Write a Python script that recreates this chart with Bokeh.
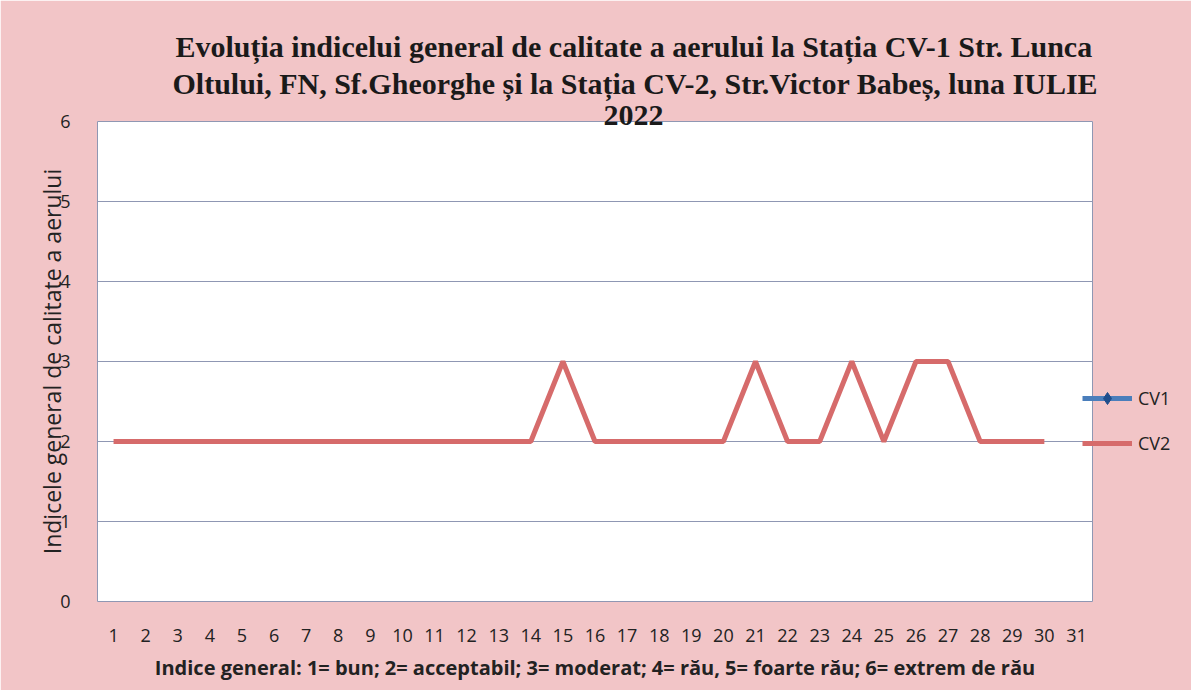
from bokeh.plotting import figure
from bokeh.models import Title, Legend, LegendItem, FixedTicker, Range1d, ColumnDataSource
from bokeh.embed import file_html
from bokeh.resources import INLINE

NaN = float("nan")

# ---- data ----
days = [1, 2, 3, 4, 5, 6, 7, 8, 9, 10, 11, 12, 13, 14, 15, 16, 17, 18, 19, 20,
        21, 22, 23, 24, 25, 26, 27, 28, 29, 30, 31]
cv2 = [2, 2, 2, 2, 2, 2, 2, 2, 2, 2, 2, 2, 2, 2, 3, 2, 2, 2, 2, 2,
       3, 2, 2, 3, 2, 3, 3, 2, 2, 2, NaN]
# CV1: no values plotted in the reference
cv1 = [NaN, NaN, NaN, NaN, NaN, NaN, NaN, NaN, NaN, NaN, NaN, NaN, NaN, NaN, NaN, NaN,
       NaN, NaN, NaN, NaN, NaN, NaN, NaN, NaN, NaN, NaN, NaN, NaN, NaN, NaN, NaN]
y_ticks = [0, 1, 2, 3, 4, 5, 6]

title_lines = [
    "Evoluția indicelui general de calitate a aerului la Stația CV-1 Str. Lunca",
    "Oltului, FN, Sf.Gheorghe și la Stația CV-2, Str.Victor Babeș, luna IULIE",
    "2022",
]
x_title = "Indice general: 1= bun; 2= acceptabil; 3= moderat; 4= rău, 5= foarte rău; 6= extrem de rău"
y_title = "Indicele general de calitate a aerului"

PINK = "#F2C5C7"
GRID = "#8F97B3"

p = figure(frame_width=995, frame_height=480,
           min_border_left=97, min_border_right=91, min_border_top=121, min_border_bottom=89,
           x_range=Range1d(0.5, 31.5), y_range=Range1d(0, 6),
           output_backend="svg", toolbar_location=None,
           background_fill_color="white", border_fill_color=PINK,
           outline_line_color=GRID, outline_line_width=1)

src2 = ColumnDataSource(dict(x=days, y=cv2))
src1 = ColumnDataSource(dict(x=days, y=cv1))

r1l = p.line("x", "y", source=src1, line_color="#4A7EBB", line_width=5)
r1m = p.scatter("x", "y", source=src1, marker="diamond", size=14,
                fill_color="#1F4E8C", line_color="#1F4E8C")
r2 = p.line("x", "y", source=src2, line_color="#D66B6B", line_width=5)

# titles (added bottom line first)
offsets = [78, 75, 506]
standoffs = [-12, 16, -7]
for txt, off, so in reversed(list(zip(title_lines, offsets, standoffs))):
    p.add_layout(Title(text=txt, align="left", offset=off,
                       text_font="Liberation Serif", text_font_style="bold",
                       text_font_size="30px", text_color="#1a1a1a", standoff=so), "above")

# axes
p.xaxis.ticker = FixedTicker(ticks=days)
p.yaxis.ticker = FixedTicker(ticks=y_ticks)
for ax in (p.xaxis[0], p.yaxis[0]):
    ax.major_tick_line_color = None
    ax.minor_tick_line_color = None
    ax.axis_line_color = None
    ax.major_label_text_font = "Open Sans"
    ax.major_label_text_color = "#222222"
    ax.axis_label_text_font = "Open Sans"
    ax.axis_label_text_color = "#222222"
    ax.axis_label_text_font_style = "normal"

p.xaxis.major_label_text_font_size = "18px"
p.xaxis.major_label_standoff = 21
p.xaxis.axis_label = x_title
p.xaxis.axis_label_text_font_style = "bold"
p.xaxis.axis_label_text_font_size = "20px"
p.xaxis.axis_label_standoff = 9

p.yaxis.major_label_text_font_size = "18px"
p.yaxis.major_label_standoff = 21
p.yaxis.axis_label = y_title
p.yaxis.axis_label_text_font_size = "23px"
p.yaxis.axis_label_standoff = -11

p.xgrid.grid_line_color = None
p.ygrid.grid_line_color = GRID
p.ygrid.grid_line_width = 1

legend = Legend(items=[LegendItem(label="CV1", renderers=[r1l, r1m]),
                       LegendItem(label="CV2", renderers=[r2])],
                location=(-10, 143), padding=0, spacing=15,
                glyph_width=50, glyph_height=30, label_standoff=6,
                label_text_font="Open Sans", label_text_font_size="18px",
                label_text_color="#222222",
                background_fill_alpha=0, border_line_color=None)
p.add_layout(legend, "right")

open("out.html", "w").write(file_html(p, INLINE))
